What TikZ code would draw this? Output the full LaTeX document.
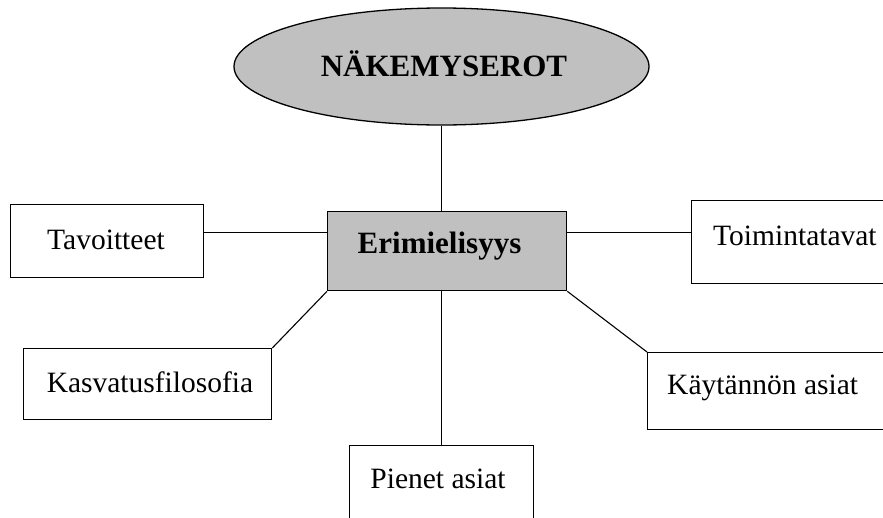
\documentclass[tikz,border=0pt]{standalone}
\usepackage{fontspec}
\setmainfont{Liberation Serif}
\usetikzlibrary{shapes.geometric,calc}
\definecolor{grayfill}{HTML}{C0C0C0}
\begin{document}
\begin{tikzpicture}[x=1pt,y=-1pt,
  box/.style={draw=black,line width=1.3pt,rectangle,inner sep=0pt,anchor=north west},
  hub/.style={box,fill=grayfill},
  lbl/.style={inner sep=0pt,font=\fontsize{29.5}{30}\selectfont},
  blbl/.style={inner sep=0pt,font=\fontsize{31}{32}\selectfont\bfseries},
  link/.style={draw=black,line width=1.1pt}]
\useasboundingbox (0,0) rectangle (883,517);
\clip (0,0) rectangle (883,517);

% outer boxes (the right and bottom ones run past the page edge)
\node[box,minimum width=193pt,minimum height=73pt] (tav) at (10,204) {};
\node[box,minimum width=248pt,minimum height=71pt] (kas) at (23,348) {};
\node[box,minimum width=230pt,minimum height=83pt] (toi) at (691,200) {};
\node[box,minimum width=250pt,minimum height=77pt] (kay) at (647,352) {};
\node[box,minimum width=184pt,minimum height=90pt] (pie) at (349,445) {};

% central topic
\node[ellipse,draw=black,line width=1.3pt,fill=grayfill,minimum width=415pt,
      minimum height=117pt,inner sep=0pt] (ell) at (441.5,66.5) {};
\node[hub,minimum width=239pt,minimum height=79pt] (ctr) at (327,211) {};

% links
\draw[link] (ell.south) -- (ell.south |- ctr.north);
\draw[link] ($(tav.north east)!0.384!(tav.south east)$) coordinate (a) -- (a -| ctr.west);
\draw[link] ($(toi.north west)!0.386!(toi.south west)$) coordinate (b) -- (b -| ctr.east);
\draw[link] (kas.north east) -- (ctr.south west);
\draw[link] (ctr.south east) -- (kay.north west);
\draw[link] (pie.north |- ctr.south) -- (pie.north);

% labels
\node[blbl,anchor=base] (tEll) at (444,76) {NÄKEMYSEROT};
\node[blbl,anchor=base] (tCtr) at (439.5,253) {Erimielisyys};
\node[lbl,anchor=base] (tTav) at (106,249) {Tavoitteet};
\node[lbl,anchor=base] (tKas) at (150,392) {Kasvatusfilosofia};
\node[lbl,anchor=base west] (tToi) at (713,245) {Toimintatavat};
\node[lbl,anchor=base west] (tKay) at (667,394) {Käytännön asiat};
\node[lbl,anchor=base] (tPie) at (438,488) {Pienet asiat};
\end{tikzpicture}
\end{document}
